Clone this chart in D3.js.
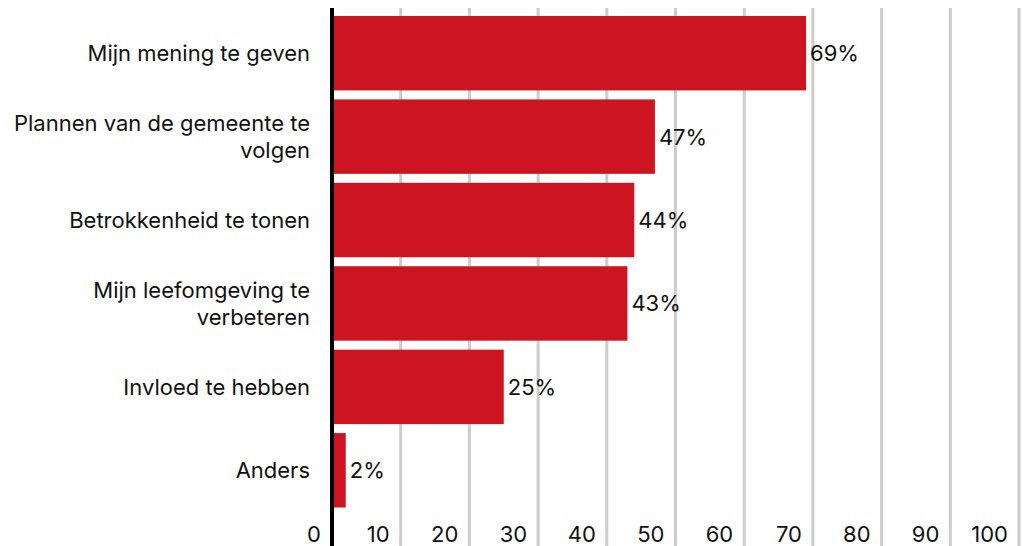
<!DOCTYPE html>
<html>
<head>
<meta charset="utf-8">
<script src="https://cdn.jsdelivr.net/npm/d3@7"></script>
<style>
  html, body { margin: 0; padding: 0; background: #fff; }
  #chart svg { display: block; }
  text { font-family: Inter, "Noto Sans", sans-serif; fill: #111; }
</style>
</head>
<body>
<div id="chart"></div>
<script>
// Data
const categories = [
    'Mijn mening te geven',
    'Plannen van de gemeente te volgen',
    'Betrokkenheid te tonen',
    'Mijn leefomgeving te verbeteren',
    'Invloed te hebben',
    'Anders'
];
const values = [69, 47, 44, 43, 25, 2];
const tickValues = [0, 10, 20, 30, 40, 50, 60, 70, 80, 90, 100];

function createVisualization(width, height) {
    d3.select('#chart').selectAll('*').remove();

    const data = categories.map((c, i) => ({ name: c, value: values[i] }));

    const svg = d3.select('#chart')
        .append('svg')
        .attr('width', width)
        .attr('height', height);

    // Scales
    const xScale = d3.scaleLinear()
        .domain([0, 100])
        .range([332, 1019]);

    const yScale = d3.scaleBand()
        .domain(categories)
        .range([11.5, 512])
        .paddingInner(0.108)
        .paddingOuter(0.054);

    // Gridlines
    svg.append('g')
        .selectAll('line')
        .data(tickValues.filter(d => d > 0))
        .join('line')
        .attr('x1', d => xScale(d))
        .attr('x2', d => xScale(d))
        .attr('y1', 8)
        .attr('y2', height)
        .style('stroke', '#cccccc')
        .style('stroke-width', '3px');

    // Bars
    svg.append('g')
        .selectAll('rect')
        .data(data)
        .join('rect')
        .attr('x', xScale(0))
        .attr('y', d => yScale(d.name))
        .attr('width', d => xScale(d.value) - xScale(0))
        .attr('height', yScale.bandwidth())
        .style('fill', '#cc1520');

    // Value labels
    svg.append('g')
        .selectAll('text')
        .data(data)
        .join('text')
        .attr('x', d => xScale(d.value) + 4)
        .attr('y', d => yScale(d.name) + yScale.bandwidth() / 2 + 8)
        .style('font-size', '22px')
        .text(d => d.value + '%');

    // Category labels (wrapped)
    const labels = svg.append('g')
        .selectAll('text')
        .data(data)
        .join('text')
        .attr('text-anchor', 'end')
        .style('font-size', '22px')
        .text(d => d.name);

    labels.each(function(d) {
        const text = d3.select(this);
        const words = d.name.split(' ');
        const lines = [];
        let line = [];
        text.text(null);
        const probe = text.append('tspan');
        words.forEach(w => {
            line.push(w);
            probe.text(line.join(' '));
            if (probe.node().getComputedTextLength() > 306 && line.length > 1) {
                line.pop();
                lines.push(line.join(' '));
                line = [w];
            }
        });
        lines.push(line.join(' '));
        probe.remove();
        const cy = yScale(d.name) + yScale.bandwidth() / 2 + 8 - (lines.length - 1) * 13.5;
        lines.forEach((l, i) => {
            text.append('tspan')
                .attr('x', 310)
                .attr('y', cy + i * 27)
                .text(l);
        });
    });

    // Tick labels
    svg.append('g')
        .selectAll('text')
        .data(tickValues)
        .join('text')
        .attr('text-anchor', 'end')
        .attr('x', d => xScale(d) - 11)
        .attr('y', 542)
        .style('font-size', '22px')
        .text(d => d);

    // Zero axis line
    svg.append('line')
        .attr('x1', xScale(0))
        .attr('x2', xScale(0))
        .attr('y1', 8)
        .attr('y2', height)
        .style('stroke', '#000')
        .style('stroke-width', '4px');
}

document.addEventListener('DOMContentLoaded', () => {
    createVisualization(1023, 546);
});
</script>
</body>
</html>
